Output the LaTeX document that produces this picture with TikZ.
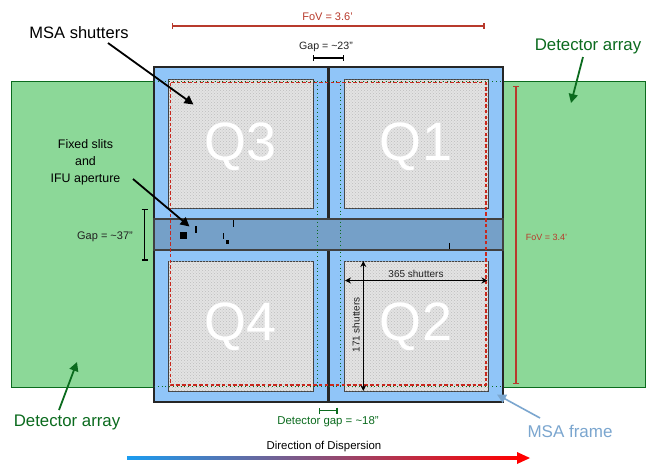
\documentclass[tikz,border=0pt]{standalone}
\usepackage{fontspec}
\setmainfont{Liberation Sans}
\usetikzlibrary{arrows.meta,patterns}
\definecolor{framebl}{HTML}{90C5F8}
\definecolor{barbl}{HTML}{75A0C8}
\definecolor{detgr}{HTML}{8CD898}
\definecolor{dkgr}{HTML}{0B6B1E}
\definecolor{fovred}{HTML}{B83A2C}
\definecolor{msabl}{HTML}{7BA6CF}
\definecolor{dashred}{HTML}{C8281E}
\definecolor{txtdk}{HTML}{222222}
\definecolor{startbl}{HTML}{1A9CF0}
\tikzset{
  detbox/.style={draw=dkgr,fill=detgr,line width=.7pt},
  framebox/.style={draw=black!85,fill=framebl,line width=1.2pt},
  barbox/.style={draw=black!75,fill=barbl,line width=1.2pt},
  shutterbox/.style={draw=black!75,fill=black!11,line width=.9pt,postaction={pattern=crosshatch dots,pattern color=black!26}},
  qlabel/.style={text=white,font=\fontsize{54}{54}\selectfont,inner sep=0pt},
  fovline/.style={draw=fovred,line width=1.2pt},
  gapbar/.style={line width=1.1pt,{Bar[width=6pt]}-{Bar[width=6pt]}},
  pointer/.style={line width=1.8pt,-{Triangle[length=9pt,width=9pt]}},
  dim/.style={line width=1.2pt,{Stealth[length=6pt,width=6pt]}-{Stealth[length=6pt,width=6pt]}},
  lab/.style={inner sep=0pt,align=center},
  slit/.style={fill=black,draw=none},
}
\begin{document}
\begin{tikzpicture}[x=1pt,y=-1pt]
\useasboundingbox (0,0) rectangle (650,464);
\fill[white] (0,0) rectangle (650,464);
% detectors
\draw[detbox] (11,81) rectangle (154,387);
\draw[detbox] (503,81) rectangle (645,387);
% MSA frames
\draw[framebox] (154,67) rectangle (328,219);
\draw[framebox] (329.5,67) rectangle (503,219);
\draw[framebox] (154,250) rectangle (328,402);
\draw[framebox] (329.5,250) rectangle (503,402);
\draw[barbox] (154,219) rectangle (503,250);
% shutters
\draw[shutterbox] (168.5,79) rectangle (313,208);
\draw[shutterbox] (344,79) rectangle (488,208);
\draw[shutterbox] (168.5,261) rectangle (313,391);
\draw[shutterbox] (344,261) rectangle (488,391);
\node[qlabel] (q3) at (241,147) {Q3};
\node[qlabel] (q1) at (416,147) {Q1};
\node[qlabel] (q4) at (241,327) {Q4};
\node[qlabel] (q2) at (416,327) {Q2};
% footprints
\draw[dkgr,line width=1pt,dash pattern=on 1pt off 2.8pt] (154,81.3) -- (503,81.3);
\draw[dkgr,line width=1pt,dash pattern=on 1pt off 2.8pt] (154,386.8) -- (503,386.8);
\draw[dkgr,line width=1pt,dash pattern=on 1pt off 2.8pt] (317,81.3) -- (317,386.8);
\draw[dkgr,line width=1pt,dash pattern=on 1pt off 2.8pt] (340,81.3) -- (340,386.8);
\draw[dashred,line width=1.3pt,dash pattern=on 3.5pt off 2.2pt] (170.7,82.8) rectangle (486,385);
% slits
\fill[slit] (180,232) rectangle (187,239);
\fill[slit] (195.4,226) rectangle (196.8,233);
\fill[slit] (233,220) rectangle (234.4,226.5);
\fill[slit] (223,233) rectangle (224.4,239);
\fill[slit] (225.7,239.5) rectangle (229,243.5);
\fill[slit] (448.7,243) rectangle (450,249);
% texts and pointers
\node[lab,font=\fontsize{16.5}{19}\selectfont] (msa) at (79,33) {MSA shutters};
\coordinate (msatip) at (193.5,104.5);
\draw[pointer] (108,43) -- (msatip);
\node[lab,font=\fontsize{12.4}{17}\selectfont] (fixed) at (85.5,162) {Fixed slits\\and\\IFU aperture};
\coordinate (fixstart) at (133,179);
\coordinate (fixtip) at (189.5,226.5);
\draw[pointer] (fixstart) -- (fixtip);
\node[lab,font=\fontsize{11}{13}\selectfont,text=txtdk] (gap37) at (105,237) {Gap = \textasciitilde37”};
\coordinate (g37a) at (144.5,209);\coordinate (g37b) at (144.5,260.5);
\draw[gapbar] (g37a) -- (g37b);
\node[lab,font=\fontsize{10.6}{13}\selectfont,text=txtdk] (gap23) at (326,46.5) {Gap = \textasciitilde23”};
\coordinate (g23a) at (313,58);\coordinate (g23b) at (344,58);
\draw[gapbar] (g23a) -- (g23b);
\node[lab,font=\fontsize{11}{13}\selectfont,text=fovred] (fovh) at (327.5,17) {FoV = 3.6’};
\coordinate (fha) at (171.5,26);\coordinate (fhb) at (484.5,26);
\draw[fovline,{Bar[width=6pt]}-{Bar[width=6pt]}] (fha) -- (fhb);
\node[lab,font=\fontsize{9}{11}\selectfont,text=fovred] (fovv) at (546.5,237) {FoV = 3.4’};
\coordinate (fva) at (516,85.5);\coordinate (fvb) at (516,384);
\draw[fovline,{Bar[width=6pt]}-{Bar[width=6pt]}] (fva) -- (fvb);
\node[lab,font=\fontsize{16.8}{19}\selectfont,text=dkgr] (dettr) at (588,46) {Detector array};
\coordinate (dt1) at (583,57);\coordinate (dt2) at (571,103);
\draw[dkgr,pointer] (dt1) -- (dt2);
\node[lab,font=\fontsize{16.8}{19}\selectfont,text=dkgr] (detbl) at (67,422) {Detector array};
\coordinate (db1) at (59,410);\coordinate (db2) at (77,362);
\draw[dkgr,pointer] (db1) -- (db2);
\node[lab,font=\fontsize{11.4}{13}\selectfont,text=dkgr] (detgap) at (328,422) {Detector gap = \textasciitilde18”};
\coordinate (dg1) at (318.5,410.5);\coordinate (dg2) at (337.5,410.5);
\draw[dkgr,gapbar] (dg1) -- (dg2);
\node[lab,font=\fontsize{17}{20}\selectfont,text=msabl] (frame) at (570,431) {MSA frame};
\coordinate (fr1) at (540,418);\coordinate (fr2) at (497,394.5);
\draw[msabl,line width=1.6pt,-{Triangle[length=9pt,width=9pt]}] (fr1) -- (fr2);
% dimensions in Q2
\coordinate (d1) at (345,280.5);\coordinate (d2) at (487.5,280.5);
\draw[dim] (d1) -- (d2);
\node[lab,font=\fontsize{10}{12}\selectfont,text=txtdk] (n365) at (416,273.5) {365 shutters};
\coordinate (d3) at (363.3,261);\coordinate (d4) at (363.3,391);
\draw[dim] (d3) -- (d4);
\node[lab,rotate=90,font=\fontsize{10}{12}\selectfont,text=txtdk] (n171) at (356,325) {171 shutters};
% dispersion
\node[lab,font=\fontsize{11.4}{13}\selectfont] (disp) at (324,447) {Direction of Dispersion};
\shade[left color=startbl,right color=red,draw=none] (127,456.5) rectangle (520,459.5);
\fill[red] (517,452) -- (530,458) -- (517,464) -- cycle;
\end{tikzpicture}
\end{document}
